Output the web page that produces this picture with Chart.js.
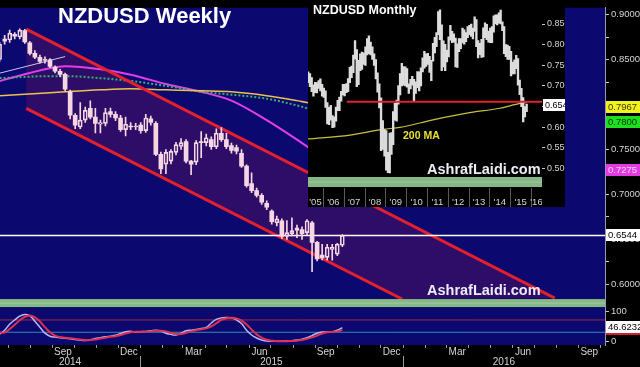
<!DOCTYPE html>
<html><head><meta charset="utf-8">
<script src="https://cdn.jsdelivr.net/npm/chart.js@4.4.1/dist/chart.umd.min.js"></script>
<style>
html,body{margin:0;padding:0;background:#000;overflow:hidden;}
#wrap{position:relative;width:640px;height:367px;}
canvas{position:absolute;top:0;display:block;}
#main{left:0;} #inset{left:308px;}
</style></head>
<body><div id="wrap"><canvas id="main" width="640" height="367" style="width:640px;height:367px"></canvas><canvas id="inset" width="257" height="207" style="width:257px;height:207px"></canvas></div>
<script>
// ================= DATA: weekly NZDUSD =================
const weeks = ['2014-06-20','2014-06-27','2014-07-04','2014-07-11','2014-07-18','2014-07-25','2014-08-01','2014-08-08','2014-08-15','2014-08-22','2014-08-29','2014-09-05','2014-09-12','2014-09-19','2014-09-26','2014-10-03','2014-10-10','2014-10-17','2014-10-24','2014-10-31','2014-11-07','2014-11-14','2014-11-21','2014-11-28','2014-12-05','2014-12-12','2014-12-19','2014-12-26','2015-01-02','2015-01-09','2015-01-16','2015-01-23','2015-01-30','2015-02-06','2015-02-13','2015-02-20','2015-02-27','2015-03-06','2015-03-13','2015-03-20','2015-03-27','2015-04-03','2015-04-10','2015-04-17','2015-04-24','2015-05-01','2015-05-08','2015-05-15','2015-05-22','2015-05-29','2015-06-05','2015-06-12','2015-06-19','2015-06-26','2015-07-03','2015-07-10','2015-07-17','2015-07-24','2015-07-31','2015-08-07','2015-08-14','2015-08-21','2015-08-28','2015-09-04','2015-09-11','2015-09-18','2015-09-25','2015-10-02','2015-10-09'];
const open  = [0.850,0.870,0.8717,0.878,0.875,0.8823,0.8685,0.8569,0.8525,0.849,0.8497,0.8416,0.8370,0.8334,0.8141,0.788,0.775,0.7826,0.7957,0.786,0.778,0.779,0.792,0.789,0.785,0.772,0.776,0.775,0.777,0.771,0.784,0.779,0.7446,0.7337,0.737,0.7467,0.7533,0.7587,0.737,0.7359,0.7587,0.7576,0.761,0.753,0.768,0.761,0.7543,0.752,0.7457,0.7315,0.712,0.7043,0.699,0.690,0.6815,0.6685,0.6707,0.6533,0.6565,0.660,0.6609,0.6576,0.6685,0.6467,0.6326,0.630,0.639,0.6337,0.6435];
const high  = [0.869,0.877,0.8826,0.880,0.8840,0.8836,0.870,0.860,0.855,0.853,0.851,0.843,0.839,0.835,0.816,0.790,0.802,0.797,0.804,0.7957,0.7826,0.7957,0.796,0.792,0.788,0.786,0.780,0.779,0.780,0.789,0.787,0.781,0.747,0.750,0.750,0.758,0.762,0.761,0.738,0.760,0.770,0.767,0.764,0.773,0.7744,0.768,0.757,0.755,0.750,0.733,0.724,0.707,0.701,0.693,0.683,0.676,0.673,0.671,0.674,0.666,0.664,0.672,0.670,0.6480,0.6446,0.6446,0.6446,0.6457,0.6555];
const low   = [0.848,0.867,0.869,0.873,0.873,0.868,0.855,0.851,0.846,0.846,0.841,0.835,0.831,0.815,0.784,0.773,0.773,0.780,0.784,0.7685,0.7685,0.7761,0.786,0.782,0.770,0.765,0.772,0.772,0.768,0.769,0.777,0.743,0.723,0.723,0.734,0.744,0.750,0.735,0.722,0.733,0.741,0.754,0.750,0.751,0.759,0.751,0.746,0.745,0.730,0.708,0.702,0.697,0.689,0.683,0.667,0.665,0.651,0.650,0.654,0.652,0.650,0.655,0.6141,0.626,0.6272,0.627,0.627,0.632,0.642];
const close = [0.867,0.873,0.8793,0.876,0.8826,0.8696,0.8569,0.8525,0.8478,0.850,0.8424,0.8370,0.8334,0.8171,0.788,0.777,0.7826,0.7935,0.7859,0.779,0.780,0.791,0.789,0.785,0.772,0.778,0.775,0.776,0.771,0.785,0.780,0.7446,0.7283,0.7467,0.7478,0.7554,0.7576,0.737,0.7337,0.7576,0.7576,0.763,0.753,0.768,0.761,0.753,0.749,0.748,0.7315,0.7098,0.7043,0.699,0.6913,0.6859,0.6696,0.6728,0.6533,0.6576,0.6598,0.663,0.6565,0.6707,0.6467,0.6283,0.6293,0.6413,0.6413,0.6446,0.6544];
// stochastics (weekly)
const stochK = [25,38,58,72,85,90,86,68,48,28,18,15,13,11,9,7,5,4,6,10,13,16,18,21,27,33,34,32,33,34,36,38,35,28,24,22,28,36,38,40,44,47,62,74,79,80,79,72,60,38,22,12,5,2,1,1,1,2,3,5,8,13,20,28,32,32,33,38,46.6];
const stochD = [30,30,42,56,71,82,87,81,67,48,31,20,15,13,11,9,7,5,5,7,10,13,16,18,22,27,31,33,33,33,34,36,36,34,29,25,25,29,34,38,41,44,51,61,72,78,79,77,70,57,40,24,13,6,3,1,1,1,2,3,5,9,14,20,27,31,32,34,39];
const stochLevels = [72, 31];
const lastStoch = 46.6232;
// moving averages (read at selected weeks)
const maDates   = ['2014-06-20','2014-08-29','2014-09-19','2014-11-07','2014-12-19','2015-02-06','2015-03-27','2015-05-08','2015-06-26','2015-08-07','2015-08-21','2015-10-09'];
const maMagenta = [0.8261,0.8402,0.8424,0.8391,0.8330,0.8228,0.8141,0.8043,0.7826,0.7609,0.7533,0.7275];
const maGreen   = [0.8293,0.8315,0.8315,0.8293,0.8261,0.8207,0.8141,0.8109,0.8065,0.7989,0.7957,0.7800];
const maYellow  = [0.8098,0.8130,0.8141,0.8163,0.8174,0.8163,0.8152,0.8141,0.8098,0.8043,0.8022,0.7967];
const trendDates = ['2014-06-20','2014-09-19'];
const trendValues = [0.8348, 0.8533];
// channel
const channelUpperDates = ['2014-07-27','2016-07-30'];
const channelUpper = [0.8837, 0.5848];
const channelLowerDates = ['2014-07-27','2015-12-31'];
const channelLower = [0.7957, 0.5837];
const lastPrice = 0.6544;
// axes
const priceTicks = [0.6000,0.6250,0.6500,0.6750,0.7000,0.7250,0.7500,0.7750,0.8000,0.8250,0.8500,0.8750,0.9000];
const stochTicks = [0, 100];
const quarterMonths = ['2014-09','2014-12','2015-03','2015-06','2015-09','2015-12','2016-03','2016-06','2016-09'];
const quarterLabels = ['Sep','Dec','Mar','Jun','Sep','Dec','Mar','Jun','Sep'];
const yearLabels = ['2014','2015','2016'];

// ================= DATA: monthly inset =================
const insetFirstMonth = '2005-04';
const insetHigh = [0.7340,0.7300,0.7200,0.7030,0.7090,0.7080,0.7130,0.7170,0.7040,
 0.6950,0.6880,0.6600,0.6480,0.6530,0.6280,0.6250,0.6490,0.6650,0.6730,0.6870,0.7040,
 0.7040,0.7060,0.7180,0.7450,0.7480,0.7750,0.8100,0.7880,0.7620,0.7780,0.7820,0.7800,
 0.7950,0.8150,0.8213,0.8060,0.7950,0.7780,0.7640,0.7320,0.7050,0.6710,0.6160,0.5950,
 0.5920,0.5390,0.5860,0.5870,0.6380,0.6580,0.6660,0.7010,0.7300,0.7550,0.7470,0.7460,
 0.7420,0.7050,0.7160,0.7230,0.7160,0.7100,0.7350,0.7340,0.7440,0.7680,0.7840,0.7780,
 0.7790,0.7720,0.7620,0.8030,0.8180,0.8290,0.8800,0.8843,0.8480,0.8090,0.8010,0.7870,
 0.8190,0.8470,0.8320,0.8260,0.8160,0.8020,0.8150,0.8150,0.8400,0.8360,0.8290,0.8440,
 0.8470,0.8500,0.8400,0.8676,0.8610,0.8100,0.8030,0.8130,0.8410,0.8530,0.8490,0.8330,
 0.8400,0.8440,0.8700,0.8720,0.8720,0.8770,0.8836,0.8550,0.8440,0.8000,0.7990,0.7960,
 0.7840,0.7580,0.7630,0.7744,0.7660,0.7140,0.6940,0.6720,0.6500,0.6560];
const insetLow = [0.7080,0.6980,0.6860,0.6750,0.6840,0.6830,0.6940,0.6880,0.6750,
 0.6720,0.6480,0.6080,0.6060,0.6170,0.5990,0.6000,0.6150,0.6400,0.6400,0.6630,0.6780,
 0.6760,0.6840,0.6860,0.7080,0.7200,0.7320,0.7650,0.6980,0.7030,0.7370,0.7400,0.7520,
 0.7500,0.7750,0.7780,0.7750,0.7640,0.7500,0.7170,0.6850,0.6470,0.5430,0.5460,0.5300,
 0.4960,0.4900,0.4895,0.5340,0.5580,0.6170,0.6150,0.6560,0.6780,0.7000,0.7020,0.7000,
 0.6970,0.6820,0.6930,0.7020,0.6640,0.6820,0.6960,0.6880,0.7000,0.7340,0.7430,0.7470,
 0.7520,0.7330,0.7130,0.7600,0.7800,0.7950,0.8240,0.8120,0.7370,0.7460,0.7370,0.7580,
 0.7700,0.8110,0.8050,0.8060,0.7460,0.7450,0.7830,0.7900,0.8040,0.8010,0.8070,0.8170,
 0.8240,0.8200,0.8140,0.8320,0.7950,0.7680,0.7760,0.7690,0.7700,0.8170,0.8120,0.8060,
 0.8050,0.8050,0.8300,0.8500,0.8480,0.8520,0.8500,0.8340,0.7780,0.7710,0.7640,0.7640,
 0.7240,0.7290,0.7290,0.7420,0.7020,0.6790,0.6500,0.6130,0.6250,0.6380];
const insetMAYears = [2005.28,2007.30,2008.88,2009.70,2011.29,2012.92,2014.51,2015.47,2015.79];
const insetMA = [0.5716,0.5810,0.5950,0.5995,0.6180,0.6344,0.6460,0.6577,0.6600];
const insetLevel = 0.662, insetLevelFrom = 2007.14;
const insetYears = [2005,2006,2007,2008,2009,2010,2011,2012,2013,2014,2015,2016];
const insetYearLabels = ["'05","'06","'07","'08","'09","'10","'11","'12","'13","'14","'15","'16"];
const insetTicks = [0.50,0.55,0.60,0.65,0.70,0.75,0.80,0.85];

// ================= HELPERS =================
const FONT = '"Liberation Sans", Arial, sans-serif';
Chart.defaults.font.family = FONT;
Chart.defaults.animation = false;
const T0 = Date.parse('2015-01-01'), DAY = 86400000;
const toD = s => (Date.parse(s) - T0) / DAY;
const monthStart = (y, m) => (Date.UTC(y, m, 1) - T0) / DAY;
const monthMid = ym => { const [y, m] = ym.split('-').map(Number); return (monthStart(y, m - 1) + monthStart(y, m)) / 2; };
const X_MIN = -194.44, X_MAX = 645.83;
const Y_MIN = 0.583696, Y_MAX = 0.907609;
const S_MIN = -11.4, S_MAX = 141.7;
const NAVY = '#0b0870', CHANNEL = '#2e0d68', CANDLE = '#f6d6e2', RED = '#e3202c';
const AXIS_TXT = '#d4d4d4';
const wx = weeks.map(toD);

// ================= MAIN CHART =================
const mainDeco = {
  id: 'mainDeco',
  beforeDraw(chart) {
    const { ctx, chartArea: a, scales: { x, y, ys } } = chart;
    ctx.save();
    ctx.fillStyle = '#000'; ctx.fillRect(0, 0, chart.width, chart.height);
    ctx.fillStyle = NAVY;
    ctx.fillRect(a.left, y.top, a.right - a.left, y.bottom - y.top);
    ctx.fillRect(a.left, ys.top + 8, a.right - a.left, ys.bottom - ys.top - 8);
    ctx.fillStyle = '#84b884'; ctx.fillRect(a.left, ys.top, a.right - a.left, 8);
    ctx.fillStyle = '#a9c9a9'; ctx.fillRect(a.left, ys.top + 3.5, a.right - a.left, 1);
    // channel fill
    ctx.beginPath(); ctx.rect(a.left, y.top, a.right - a.left, y.bottom - y.top); ctx.clip();
    ctx.beginPath();
    ctx.moveTo(x.getPixelForValue(toD(channelUpperDates[0])), y.getPixelForValue(channelUpper[0]));
    ctx.lineTo(x.getPixelForValue(toD(channelUpperDates[1])), y.getPixelForValue(channelUpper[1]));
    ctx.lineTo(x.getPixelForValue(toD(channelLowerDates[1])), y.getPixelForValue(channelLower[1]));
    ctx.lineTo(x.getPixelForValue(toD(channelLowerDates[0])), y.getPixelForValue(channelLower[0]));
    ctx.closePath();
    ctx.fillStyle = CHANNEL; ctx.fill();
    ctx.restore();
  },
  afterDraw(chart) {
    const { ctx, scales: { x, y, ys } } = chart;
    const base = ys.bottom;
    ctx.save();
    ctx.strokeStyle = '#9a9a9a'; ctx.lineWidth = 1;
    for (let yr = 2014; yr <= 2016; yr++) for (let m = 0; m < 12; m++) {
      const d = monthStart(yr, m); if (d < X_MIN || d > X_MAX) continue;
      const px = Math.round(x.getPixelForValue(d)) + 0.5;
      ctx.beginPath(); ctx.moveTo(px, base); ctx.lineTo(px, base + 3); ctx.stroke();
    }
    [2015, 2016].forEach(yr => {
      const px = Math.round(x.getPixelForValue(monthStart(yr, 0))) + 0.5;
      ctx.beginPath(); ctx.moveTo(px, base + 11); ctx.lineTo(px, chart.height); ctx.stroke();
    });
    // x-axis labels (months, then years)
    ctx.fillStyle = AXIS_TXT; ctx.font = '10px ' + FONT; ctx.textAlign = 'center'; ctx.textBaseline = 'middle';
    quarterMonths.forEach((m, i) => ctx.fillText(quarterLabels[i], x.getPixelForValue(monthMid(m)), base + 7));
    yearLabels.forEach(yl => {
      const yr = +yl;
      const c = (Math.max(X_MIN, monthStart(yr, 0)) + Math.min(X_MAX, monthStart(yr + 1, 0))) / 2;
      ctx.fillText(yl, x.getPixelForValue(c), base + 17);
    });
    // title + watermark
    ctx.fillStyle = '#ffffff'; ctx.textAlign = 'left'; ctx.textBaseline = 'alphabetic';
    ctx.font = 'bold 22px ' + FONT; ctx.fillText('NZDUSD Weekly', 58, 23);
    ctx.font = 'bold 14.5px ' + FONT; ctx.fillStyle = '#ececf4'; ctx.fillText('AshrafLaidi.com', 427, 295);
    // value boxes on right axis
    const W = chart.width;
    const box = (yc, bg, fg, txt) => {
      const t = Math.round(yc) - 6;
      ctx.fillStyle = bg; ctx.fillRect(606, t, W - 606, 12);
      ctx.fillStyle = fg; ctx.font = '9.5px ' + FONT; ctx.textBaseline = 'middle'; ctx.textAlign = 'left';
      ctx.fillText(txt, 608, t + 6.5);
    };
    box(y.getPixelForValue(maYellow[maYellow.length - 1]), '#f2f21e', '#3a3a00', maYellow[maYellow.length - 1].toFixed(4));
    box(y.getPixelForValue(maGreen[maGreen.length - 1]), '#1fe01f', '#003300', maGreen[maGreen.length - 1].toFixed(4));
    box(y.getPixelForValue(maMagenta[maMagenta.length - 1]), '#e43ce4', '#ffd8ff', maMagenta[maMagenta.length - 1].toFixed(4));
    box(y.getPixelForValue(lastPrice), '#ffffff', '#000000', lastPrice.toFixed(4));
    const sy = ys.getPixelForValue(lastStoch);
    ctx.fillStyle = '#d02030'; ctx.fillRect(606, Math.round(sy) - 3, W - 606, 10);
    box(sy - 1, '#ffffff', '#000000', lastStoch.toFixed(4));
    ctx.restore();
  }
};

const bodyData = wx.map((d, i) => ({ x: d, y: [open[i], close[i]] }));
const upWick = wx.map((d, i) => ({ x: d, y: [Math.max(open[i], close[i]), high[i]] }));
const dnWick = wx.map((d, i) => ({ x: d, y: [low[i], Math.min(open[i], close[i])] }));
const isUp = c => close[c.dataIndex] >= open[c.dataIndex];
const line = (data, color, width, order, extra) => Object.assign({ type: 'line', data, borderColor: color, borderWidth: width, pointRadius: 0, fill: false, order, yAxisID: 'y', xAxisID: 'x' }, extra || {});

new Chart(document.getElementById('main'), {
  type: 'bar',
  data: { datasets: [
    { type: 'bar', data: bodyData, grouped: false, barThickness: 4, minBarLength: 1, borderSkipped: false,
      backgroundColor: c => isUp(c) ? 'rgba(0,0,0,0)' : CANDLE, borderColor: CANDLE, borderWidth: c => isUp(c) ? 1 : 0,
      yAxisID: 'y', xAxisID: 'x', order: 0 },
    { type: 'bar', data: upWick, grouped: false, barThickness: 1, backgroundColor: CANDLE, borderWidth: 0, yAxisID: 'y', xAxisID: 'x', order: 1 },
    { type: 'bar', data: dnWick, grouped: false, barThickness: 1, backgroundColor: CANDLE, borderWidth: 0, yAxisID: 'y', xAxisID: 'x', order: 1 },
    line([{ x: X_MIN, y: lastPrice }, { x: X_MAX, y: lastPrice }], '#ffffff', 1.5, 2),
    line(channelUpperDates.map((d, i) => ({ x: toD(d), y: channelUpper[i] })), RED, 3, 3),
    line(channelLowerDates.map((d, i) => ({ x: toD(d), y: channelLower[i] })), RED, 3, 3),
    line(maDates.map((d, i) => ({ x: toD(d), y: maYellow[i] })), '#eec050', 1.5, 4, { cubicInterpolationMode: 'monotone' }),
    line(maDates.map((d, i) => ({ x: toD(d), y: maGreen[i] })), '#38b070', 2, 4, { cubicInterpolationMode: 'monotone', borderDash: [2, 2] }),
    line(maDates.map((d, i) => ({ x: toD(d), y: maMagenta[i] })), '#e23ee8', 2, 4, { cubicInterpolationMode: 'monotone' }),
    line(trendDates.map((d, i) => ({ x: toD(d), y: trendValues[i] })), '#c8c4f0', 1, 4),
    line([{ x: X_MIN, y: stochLevels[0] }, { x: X_MAX, y: stochLevels[0] }], '#a02848', 1, 6, { yAxisID: 'ys' }),
    line([{ x: X_MIN, y: stochLevels[1] }, { x: X_MAX, y: stochLevels[1] }], '#3a88b0', 1, 6, { yAxisID: 'ys' }),
    line(wx.map((d, i) => ({ x: d, y: stochD[i] })), '#e03050', 2, 5, { yAxisID: 'ys', tension: 0.4 }),
    line(wx.map((d, i) => ({ x: d, y: stochK[i] })), '#b8b8f4', 1.5, 5, { yAxisID: 'ys', tension: 0.4 })
  ] },
  options: {
    responsive: false, maintainAspectRatio: false, animation: false,
    layout: { padding: 0 },
    plugins: { legend: { display: false }, tooltip: { enabled: false } },
    scales: {
      x: { type: 'linear', min: X_MIN, max: X_MAX, offset: false, bounds: 'data',
        grid: { display: false }, border: { display: false }, ticks: { display: false },
        afterFit: s => { s.height = 22; } },
      y: { type: 'linear', position: 'right', stack: 'right', stackWeight: 298, min: Y_MIN, max: Y_MAX, bounds: 'data',
        grid: { drawOnChartArea: false, drawTicks: true, tickLength: 4, color: '#c8c8c8', tickColor: '#c8c8c8' },
        border: { display: true, color: '#9898b0' },
        afterBuildTicks: s => { s.ticks = priceTicks.map(v => ({ value: v })); },
        ticks: { autoSkip: false, color: AXIS_TXT, font: { size: 9.5 }, padding: 2, callback: (v, i) => (i % 2 === 0 ? v.toFixed(4) : '') },
        afterFit: s => { s.width = 35; } },
      ys: { type: 'linear', position: 'right', stack: 'right', stackWeight: 47, min: S_MIN, max: S_MAX, bounds: 'data',
        grid: { drawOnChartArea: false, drawTicks: true, tickLength: 4, color: '#c8c8c8', tickColor: '#c8c8c8' },
        border: { display: true, color: '#9898b0' },
        afterBuildTicks: s => { s.ticks = stochTicks.map(v => ({ value: v })); },
        ticks: { autoSkip: false, color: AXIS_TXT, font: { size: 9.5 }, padding: 2, callback: v => String(v) },
        afterFit: s => { s.width = 35; } }
    }
  },
  plugins: [mainDeco]
});

// ================= INSET CHART =================
const [iy0, im0] = insetFirstMonth.split('-').map(Number);
const insetX = insetHigh.map((h, k) => iy0 + (im0 - 1 + k + 0.5) / 12);
const IX_MIN = 2005.28, IX_MAX = 2016.53, IY_MIN = 0.4553, IY_MAX = 0.8902;

const insetDeco = {
  id: 'insetDeco',
  beforeDraw(chart) {
    const { ctx, chartArea: a } = chart;
    ctx.save();
    ctx.fillStyle = '#000'; ctx.fillRect(0, 0, chart.width, chart.height);
    ctx.fillStyle = '#84b884'; ctx.fillRect(a.left, a.bottom - 10, a.right - a.left, 10);
    ctx.fillStyle = '#a9c0a9'; ctx.fillRect(a.left, a.bottom - 5.5, a.right - a.left, 1);
    ctx.restore();
  },
  afterDraw(chart) {
    const { ctx, chartArea: a, scales: { x, y } } = chart;
    ctx.save();
    ctx.strokeStyle = '#5a5a5a'; ctx.lineWidth = 1;
    insetYears.forEach(yr => {
      if (yr <= IX_MIN) return;
      const px = Math.round(x.getPixelForValue(yr)) + 0.5;
      ctx.beginPath(); ctx.moveTo(px, a.bottom + 1); ctx.lineTo(px, chart.height); ctx.stroke();
    });
    // year labels, clipped to plot width
    ctx.save();
    ctx.beginPath(); ctx.rect(a.left, a.bottom, a.right - a.left, chart.height - a.bottom); ctx.clip();
    ctx.fillStyle = AXIS_TXT; ctx.font = '9.5px ' + FONT; ctx.textAlign = 'center'; ctx.textBaseline = 'middle';
    insetYears.forEach((yr, i) => {
      const c = (Math.max(IX_MIN, yr) + Math.min(IX_MAX, yr + 1)) / 2;
      ctx.fillText(insetYearLabels[i], x.getPixelForValue(c), a.bottom + 15);
    });
    ctx.restore();
    ctx.textAlign = 'left'; ctx.textBaseline = 'alphabetic';
    ctx.fillStyle = '#ffffff'; ctx.font = 'bold 12.5px ' + FONT; ctx.fillText('NZDUSD Monthly', 5, 14);
    ctx.fillStyle = '#e8e030'; ctx.font = 'bold 10.5px ' + FONT; ctx.fillText('200 MA', 95, 139);
    ctx.fillStyle = '#ececf4'; ctx.font = 'bold 14.5px ' + FONT; ctx.fillText('AshrafLaidi.com', 119, 174);
    const py = Math.round(y.getPixelForValue(lastPrice));
    ctx.fillStyle = '#ffffff'; ctx.fillRect(a.right + 1, py - 6, chart.width - a.right, 12);
    ctx.fillStyle = '#000'; ctx.font = '9px ' + FONT; ctx.textBaseline = 'middle'; ctx.fillText(lastPrice.toFixed(4), a.right + 3, py + 0.5);
    ctx.restore();
  }
};

new Chart(document.getElementById('inset'), {
  type: 'bar',
  data: { datasets: [
    { type: 'bar', data: insetX.map((xv, k) => ({ x: xv, y: [insetLow[k], insetHigh[k]] })), grouped: false, barThickness: 1.7, backgroundColor: '#dcdcdc', borderWidth: 0, order: 1 },
    { type: 'line', data: insetMAYears.map((xv, k) => ({ x: xv, y: insetMA[k] })), borderColor: '#c8c040', borderWidth: 1.2, pointRadius: 0, cubicInterpolationMode: 'monotone', order: 2 },
    { type: 'line', data: [{ x: insetLevelFrom, y: insetLevel }, { x: IX_MAX, y: insetLevel }], borderColor: RED, borderWidth: 2, pointRadius: 0, order: 0 }
  ] },
  options: {
    responsive: false, maintainAspectRatio: false, animation: false,
    layout: { padding: 0 },
    plugins: { legend: { display: false }, tooltip: { enabled: false } },
    scales: {
      x: { type: 'linear', min: IX_MIN, max: IX_MAX, offset: false, bounds: 'data',
        grid: { display: false }, border: { display: false }, ticks: { display: false },
        afterFit: s => { s.height = 20; } },
      y: { type: 'linear', position: 'right', min: IY_MIN, max: IY_MAX, bounds: 'data',
        grid: { drawOnChartArea: false, drawTicks: true, tickLength: 3, color: '#c8c8c8', tickColor: '#c8c8c8' },
        border: { display: false },
        afterBuildTicks: s => { s.ticks = insetTicks.map(v => ({ value: v })); },
        ticks: { autoSkip: false, color: AXIS_TXT, font: { size: 9 }, padding: 2, callback: v => v.toFixed(4) },
        afterFit: s => { s.width = 23; } }
    }
  },
  plugins: [insetDeco]
});
</script>
</body></html>
